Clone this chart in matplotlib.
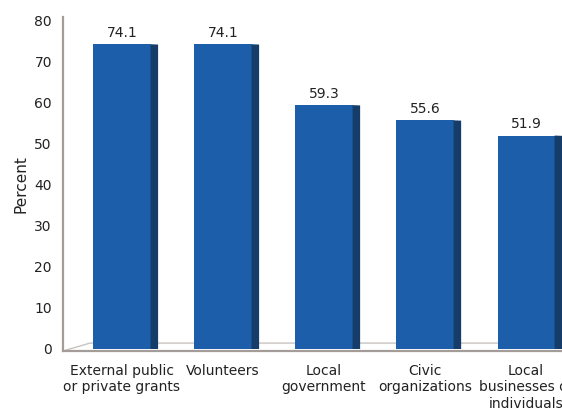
import matplotlib
matplotlib.use('Agg')
import matplotlib.pyplot as plt
from matplotlib.patches import Polygon
from matplotlib.lines import Line2D

# data
categories = ['External public\nor private grants', 'Volunteers',
              'Local\ngovernment', 'Civic\norganizations',
              'Local\nbusinesses or\nindividuals']
values = [74.1, 74.1, 59.3, 55.6, 51.9]
yticks = [0, 10, 20, 30, 40, 50, 60, 70, 80]

front_col = '#1c5ea9'
side_col = '#163d6a'

fig = plt.figure(figsize=(5.62, 4.09), dpi=100)
ax = fig.add_axes([63 / 562, 60 / 409, 499 / 562, 329 / 409])

xs = list(range(len(values)))
width = 0.565
ax.bar(xs, values, width=width, color=front_col, edgecolor='none', zorder=3)

# side faces for the 3-D look
dx, dy = 0.075, -0.07
for x, v in zip(xs, values):
    r = x + width / 2
    side = Polygon([[r, v], [r + dx, v + dy], [r + dx, dy], [r, 0]],
                   closed=True, facecolor=side_col, edgecolor='none', zorder=3)
    ax.add_patch(side)
    ax.text(x, v + 1.0, f'{v:.1f}', ha='center', va='bottom',
            fontsize=10, color='#222222')

ax.set_xlim(-0.584, 4.356)
ax.set_ylim(0, 80)
ax.set_yticks(yticks)
ax.set_xticks(xs)
ax.set_xticklabels(categories, fontsize=10, color='#222222', linespacing=1.2)
ax.tick_params(axis='both', length=0, labelsize=10, colors='#222222')
ax.tick_params(axis='y', pad=8)
ax.tick_params(axis='x', pad=11)
for s in ax.spines.values():
    s.set_visible(False)
ax.set_ylabel('Percent', fontsize=11, color='#222222', labelpad=4)

# left wall and floor lines (axes fraction coordinates)
wall = '#a39c98'
ax.add_line(Line2D([0, 0], [-0.006, 1.01], transform=ax.transAxes,
                   color=wall, lw=1.6, clip_on=False, zorder=4))
ax.add_line(Line2D([0, 1], [-0.006, -0.006], transform=ax.transAxes,
                   color=wall, lw=1.6, clip_on=False, zorder=4))
ax.add_line(Line2D([0, 27 / 499, 1], [-0.006, 0.018, 0.018], transform=ax.transAxes,
                   color='#c8c3c0', lw=1.0, clip_on=False, zorder=2))

fig.savefig('out.png', dpi=100)
